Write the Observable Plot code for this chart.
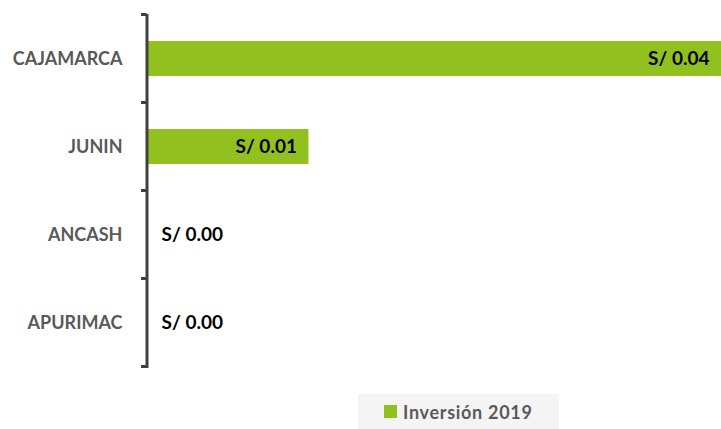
<!DOCTYPE html>
<html>
<head>
<meta charset="utf-8">
<script src="https://cdn.jsdelivr.net/npm/d3@7"></script>
<script src="https://cdn.jsdelivr.net/npm/@observablehq/plot@0.6"></script>
<style>
  html, body { margin: 0; padding: 0; background: #ffffff; }
  body { width: 721px; height: 429px; position: relative; overflow: hidden; font-family: Lato, "Open Sans", sans-serif; }
  #legend { position: absolute; left: 358px; top: 394px; width: 201px; height: 35px; background: #f4f4f4;
            display: flex; align-items: center; font-weight: bold; font-size: 18px; letter-spacing: 0.7px; color: #595959; }
  #legend .sw { width: 13px; height: 13px; background: #92c01f; margin-left: 26px; margin-right: 6px; }
</style>
</head>
<body>
<div id="chart"></div>
<div id="legend"><div class="sw"></div><span id="legtext"></span></div>
<script>
const categories = ["CAJAMARCA", "JUNIN", "ANCASH", "APURIMAC"];
const values = [0.04, 0.0112, 0, 0];
const valueLabels = ["S/ 0.04", "S/ 0.01", "S/ 0.00", "S/ 0.00"];
const seriesName = "Inversión 2019";

const data = categories.map((c, i) => ({cat: c, v: values[i], label: valueLabels[i]}));
const green = "#92c01f";

const plot = Plot.plot({
  width: 721,
  height: 390,
  marginLeft: 148,
  marginRight: 0,
  marginTop: 14,
  marginBottom: 22,
  style: {fontFamily: "Lato, 'Open Sans', sans-serif", background: "transparent", overflow: "visible"},
  x: {domain: [0, 0.04], axis: null},
  y: {domain: categories, paddingInner: 0.6, paddingOuter: 0.3, label: null},
  marks: [
    Plot.barX(data, {x: "v", y: "cat", fill: green}),
    Plot.axisY({tickSize: 0, tickPadding: 26, fontSize: 18, fontWeight: "bold", fill: "#595959", label: null}),
    Plot.ruleX([0], {stroke: "#404040", strokeWidth: 3, dx: -1.5}),
    Plot.text(data.filter(d => d.v > 0), {x: "v", y: "cat", text: "label", textAnchor: "end", dx: -12,
      fontSize: 19, fontWeight: "bold", fill: "#000000"}),
    Plot.text(data.filter(d => d.v === 0), {x: "v", y: "cat", text: "label", textAnchor: "start", dx: 13,
      fontSize: 19, fontWeight: "bold", fill: "#000000"})
  ]
});
document.getElementById("chart").appendChild(plot);
document.getElementById("legtext").textContent = seriesName;

// band-boundary ticks, placed using the plot's own y scale
const ys = plot.scale("y");
const x0 = plot.scale("x").apply(0);
const step = ys.step;
const centers = categories.map(c => ys.apply(c) + ys.bandwidth / 2);
const bounds = centers.map(c => c - step / 2).concat([centers[centers.length - 1] + step / 2]);
d3.select(plot).append("g")
  .selectAll("line").data(bounds).join("line")
  .attr("x1", x0 - 7).attr("x2", x0 - 1.5)
  .attr("y1", d => d).attr("y2", d => d)
  .attr("stroke", "#404040").attr("stroke-width", 3);
</script>
</body>
</html>
